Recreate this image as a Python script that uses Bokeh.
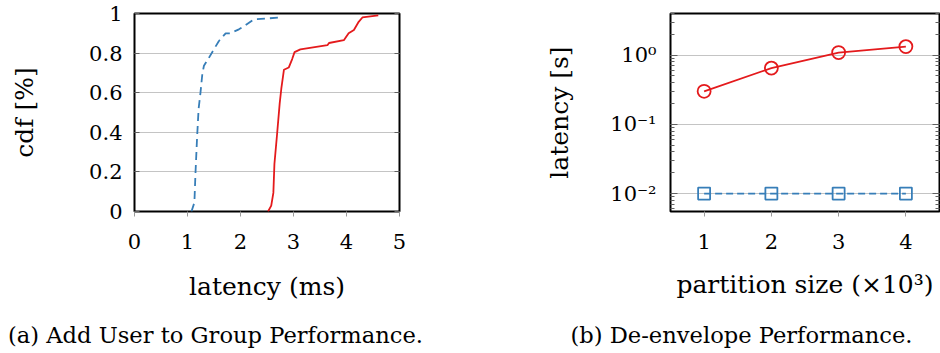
from bokeh.plotting import figure
from bokeh.layouts import row, column
from bokeh.models import Range1d, LinearAxis, LogAxis, FixedTicker, CustomJSTickFormatter
from bokeh.core.properties import value
from bokeh.embed import file_html
from bokeh.resources import INLINE

# ---- data (a): CDF of latency (ms)
blue_cdf_x = [1.075, 1.13, 1.15, 1.18, 1.21, 1.245, 1.28, 1.31, 1.39, 1.50, 1.59, 1.72, 1.81, 1.97, 2.09, 2.25, 2.75]
blue_cdf_y = [0.0, 0.045, 0.19, 0.37, 0.52, 0.60, 0.695, 0.736, 0.77, 0.82, 0.86, 0.90, 0.90, 0.92, 0.94, 0.97, 0.98]
red_cdf_x = [2.52, 2.58, 2.62, 2.64, 2.69, 2.74, 2.77, 2.82, 2.91, 2.975, 3.02, 3.13, 3.64, 3.67, 3.95, 4.04, 4.14, 4.23, 4.30, 4.60]
red_cdf_y = [0.0, 0.03, 0.094, 0.24, 0.39, 0.547, 0.62, 0.716, 0.727, 0.77, 0.805, 0.819, 0.84, 0.851, 0.865, 0.90, 0.917, 0.958, 0.98, 0.99]
a_xticks = [0, 1, 2, 3, 4, 5]
a_yticks = [0, 0.2, 0.4, 0.6, 0.8, 1.0]

# ---- data (b): latency (s) vs partition size
partition = [1, 2, 3, 4]
red_lat = [0.30, 0.65, 1.09, 1.33]
blue_lat = [0.01, 0.01, 0.01, 0.01]
b_yticks = [0.01, 0.1, 1.0]

caption_a = "(a) Add User to Group Performance."
caption_b = "(b) De-envelope Performance."

RED = "#e41a1c"
BLUE = "#377eb8"
SERIF = "DejaVu Serif"
TICK_FS = "21px"
LABEL_FS = "25px"
CAP_FS = "22.6px"
GRID = "#c4c4c4"
TICKC = "#9a9a9a"
PLOT_H = 315
CAP_H = 38


def style_axis(ax):
    ax.major_label_text_font = SERIF
    ax.major_label_text_font_size = TICK_FS
    ax.major_label_text_color = "black"
    ax.axis_label_text_font = SERIF
    ax.axis_label_text_font_size = LABEL_FS
    ax.axis_label_text_font_style = "normal"
    ax.axis_label_text_color = "black"
    ax.axis_line_color = None
    ax.major_tick_line_color = TICKC
    ax.minor_tick_line_color = TICKC


def blank_axis(ax):
    ax.formatter = CustomJSTickFormatter(code="return '';")
    ax.major_label_standoff = 0
    ax.axis_line_color = None
    ax.major_tick_out = 0
    ax.minor_tick_out = 0
    ax.major_tick_line_color = TICKC
    ax.minor_tick_line_color = TICKC


def caption_fig(text, cx):
    c = figure(width=470, height=CAP_H, output_backend="svg", toolbar_location=None,
               x_range=Range1d(0, 470), y_range=Range1d(0, CAP_H),
               min_border=0, x_axis_type=None, y_axis_type=None)
    c.outline_line_color = None
    c.grid.visible = False
    c.text(x=[cx], y=[19], text=[text], text_align="center", text_baseline="middle",
           text_font=value(SERIF), text_font_size=value(CAP_FS), text_color="black")
    return c


# ================= (a)
p1 = figure(width=470, height=PLOT_H, output_backend="svg", toolbar_location=None,
            x_range=Range1d(0, 5), y_range=Range1d(0, 1),
            min_border_left=134, min_border_right=71, min_border_top=13,
            min_border_bottom=PLOT_H - 216)
p1.outline_line_color = "black"
p1.outline_line_width = 2
p1.xgrid.visible = False
p1.ygrid.grid_line_color = GRID
p1.ygrid.grid_line_width = 1.2

p1.xaxis.ticker = FixedTicker(ticks=a_xticks)
p1.yaxis.ticker = FixedTicker(ticks=a_yticks)
p1.yaxis.formatter = CustomJSTickFormatter(code="return tick.toFixed(1).replace(/\\.0$/, '');")
for ax in p1.xaxis + p1.yaxis:
    style_axis(ax)
p1.xaxis.major_tick_out = 5
p1.xaxis.major_tick_in = 0
p1.xaxis.major_label_standoff = 17
p1.xaxis.axis_label = "latency (ms)"
p1.xaxis.axis_label_standoff = 20
p1.yaxis.major_tick_in = 5
p1.yaxis.major_tick_out = 0
p1.yaxis.major_label_standoff = 12
p1.yaxis.axis_label = "cdf [%]"
p1.yaxis.axis_label_standoff = 47
p1.yaxis.major_tick_line_color = "#606060"

ra = LinearAxis(ticker=FixedTicker(ticks=a_yticks))
blank_axis(ra)
ra.major_tick_in = 5
ra.major_tick_line_color = "#606060"
p1.add_layout(ra, "right")

p1.line(blue_cdf_x, blue_cdf_y, line_color=BLUE, line_width=1.8, line_dash="8 5")
p1.line(red_cdf_x, red_cdf_y, line_color=RED, line_width=1.8)

# ================= (b)
p2 = figure(width=470, height=PLOT_H, output_backend="svg", toolbar_location=None,
            x_range=Range1d(0.5, 4.5), y_range=Range1d(0.0055, 4.0), y_axis_type="log",
            min_border_left=200, min_border_right=1, min_border_top=4,
            min_border_bottom=PLOT_H - 211)
p2.outline_line_color = "black"
p2.outline_line_width = 2
p2.xgrid.visible = False
p2.ygrid.grid_line_color = GRID
p2.ygrid.grid_line_width = 1.2

minor = []
for d in [0.001, 0.01, 0.1, 1.0]:
    for k in range(2, 10):
        minor.append(d * k)

p2.xaxis.ticker = FixedTicker(ticks=partition)
p2.yaxis.ticker = FixedTicker(ticks=b_yticks, minor_ticks=minor)
sup_code = """
const e = Math.round(Math.log10(tick));
const sup = {'0':'\u2070','1':'\u00b9','2':'\u00b2','3':'\u00b3','-':'\u207b'};
return '10' + String(e).split('').map(c => sup[c]).join('');
"""
p2.yaxis.formatter = CustomJSTickFormatter(code=sup_code)
for ax in p2.xaxis + p2.yaxis:
    style_axis(ax)
p2.xaxis.major_tick_out = 5
p2.xaxis.major_tick_in = 0
p2.xaxis.minor_tick_out = 0
p2.xaxis.minor_tick_in = 0
p2.xaxis.major_label_standoff = 17
p2.xaxis.axis_label = "partition size (\u00d710\u00b3)"
p2.xaxis.axis_label_standoff = 18
p2.yaxis.major_tick_in = 7
p2.yaxis.major_tick_out = 0
p2.yaxis.minor_tick_in = 4
p2.yaxis.minor_tick_out = 0
p2.yaxis.major_label_standoff = 14
p2.yaxis.axis_label = "latency [s]"
p2.yaxis.axis_label_standoff = 33
p2.yaxis.major_tick_line_color = "#606060"
p2.yaxis.minor_tick_line_color = "#606060"

rb = LogAxis(ticker=FixedTicker(ticks=b_yticks, minor_ticks=minor))
blank_axis(rb)
rb.major_tick_in = 7
rb.minor_tick_in = 4
rb.major_tick_line_color = "#606060"
rb.minor_tick_line_color = "#606060"
p2.add_layout(rb, "right")

p2.line(partition, red_lat, line_color=RED, line_width=1.8)
p2.scatter(partition, red_lat, marker="circle", size=13, fill_color=None, line_color=RED, line_width=1.8)
p2.line(partition, blue_lat, line_color=BLUE, line_width=1.8, line_dash="7 4")
p2.scatter(partition, blue_lat, marker="square", size=12, fill_color=None, line_color=BLUE, line_width=1.8)

c1 = caption_fig(caption_a, 215)
c2 = caption_fig(caption_b, 271)

layout = column(row(p1, p2), row(c1, c2))
with open("out.html", "w", encoding="utf-8") as f:
    f.write(file_html(layout, INLINE))
